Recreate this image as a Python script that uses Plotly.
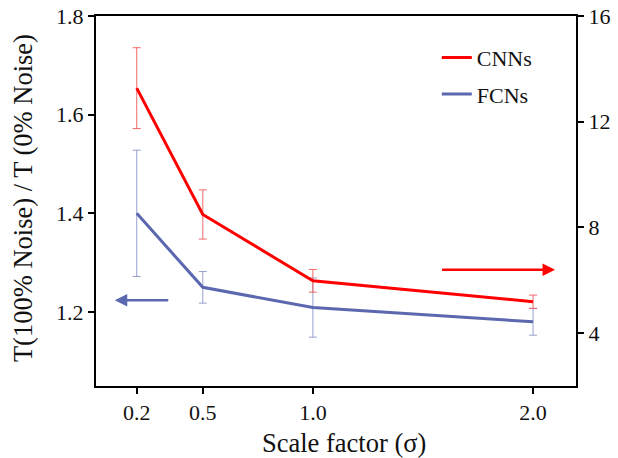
import plotly.graph_objects as go

x_vals = [0.2, 0.5, 1.0, 2.0]
cnn_vals = [13.27, 8.49, 5.98, 5.19]
cnn_err = [1.53, 0.93, 0.43, 0.25]
fcn_vals = [1.40, 1.25, 1.209, 1.180]
fcn_err = [0.128, 0.032, 0.06, 0.027]
x_ticks = ["0.2", "0.5", "1.0", "2.0"]

FONT = "Liberation Serif, Times New Roman, serif"
RED = "#FF0000"
BLUE = "#5B68B0"
TXT = "#111111"

fig = go.Figure()
fig.add_trace(go.Scatter(
    x=x_vals, y=cnn_vals, name="CNNs", mode="lines", yaxis="y2", legendgroup="a",
    line=dict(color=RED, width=3),
    error_y=dict(type="data", array=cnn_err, color="rgba(240,90,90,0.9)", thickness=1, width=4),
))
fig.add_trace(go.Scatter(
    x=x_vals, y=fcn_vals, name="FCNs", mode="lines", yaxis="y", legendgroup="b",
    line=dict(color=BLUE, width=3),
    error_y=dict(type="data", array=fcn_err, color="rgba(140,150,200,0.9)", thickness=1, width=4),
))

# direction arrows
fig.add_annotation(x=0.10, y=1.224, ax=0.35, ay=1.224, xref="x", yref="y", axref="x", ayref="y",
                   showarrow=True, arrowhead=2, arrowsize=1, arrowwidth=2.5, arrowcolor=BLUE, text="")
fig.add_annotation(x=2.10, y=6.40, ax=1.58, ay=6.40, xref="x", yref="y2", axref="x", ayref="y2",
                   showarrow=True, arrowhead=2, arrowsize=1, arrowwidth=2.5, arrowcolor=RED, text="")

# axis titles
fig.add_annotation(text="Scale factor (σ)", xref="paper", yref="paper", x=0.517, y=-0.154,
                   xanchor="center", yanchor="middle", showarrow=False,
                   font=dict(size=26.5, family=FONT, color=TXT))
fig.add_annotation(text="T(100% Noise) / T (0% Noise)", xref="paper", yref="paper", x=-0.152, y=0.508,
                   xanchor="center", yanchor="middle", showarrow=False, textangle=-90,
                   font=dict(size=26.5, family=FONT, color=TXT))

fig.update_layout(
    width=618, height=458,
    margin=dict(l=96, r=42, t=16, b=72),
    paper_bgcolor="white", plot_bgcolor="white",
    font=dict(family=FONT, size=22, color=TXT),
    showlegend=True,
    legend=dict(x=0.71, y=0.944, xanchor="left", yanchor="top", bgcolor="rgba(0,0,0,0)",
                font=dict(size=22, family=FONT, color=TXT), traceorder="grouped",
                tracegroupgap=5),
    xaxis=dict(range=[0.015, 2.195], tickvals=x_vals, ticktext=x_ticks, automargin=False,
               showline=True, linecolor="black", linewidth=2, mirror=True,
               ticks="outside", ticklen=6, tickwidth=1.5, tickcolor="black",
               showgrid=False, zeroline=False, tickfont=dict(size=22)),
    yaxis=dict(range=[1.05, 1.8], tickvals=[1.2, 1.4, 1.6, 1.8], automargin=False,
               ticktext=["1.2", "1.4", "1.6", "1.8"],
               showline=True, linecolor="black", linewidth=2,
               ticks="outside", ticklen=6, tickwidth=1.5, tickcolor="black",
               showgrid=False, zeroline=False, tickfont=dict(size=22)),
    yaxis2=dict(range=[2, 16], tickvals=[4, 8, 12, 16], overlaying="y", side="right",
                automargin=False,
                showline=True, linecolor="black", linewidth=2,
                ticks="outside", ticklen=6, tickwidth=1.5, tickcolor="black",
                showgrid=False, zeroline=False, tickfont=dict(size=22)),
)

fig.write_html("out.html")
